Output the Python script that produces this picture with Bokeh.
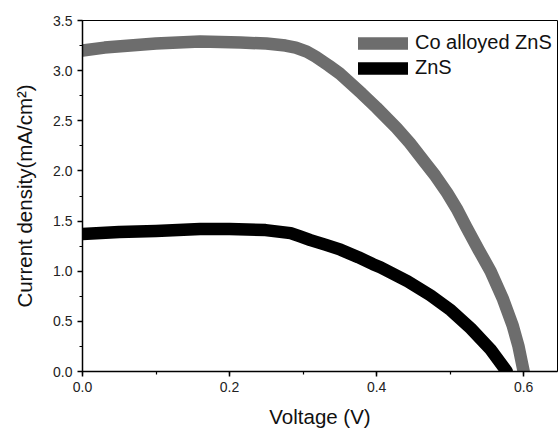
from bokeh.plotting import figure
from bokeh.models import Range1d, SingleIntervalTicker, PrintfTickFormatter, Legend, LegendItem
from bokeh.embed import file_html
from bokeh.resources import INLINE

# Co alloyed ZnS J-V curve
co_voltage = [0.000, 0.030, 0.065, 0.100, 0.160, 0.215, 0.250, 0.276, 0.290, 0.305, 0.317,
              0.335, 0.350, 0.365, 0.380, 0.400, 0.427, 0.445, 0.464, 0.480, 0.496,
              0.510, 0.522, 0.539, 0.555, 0.572, 0.585, 0.593, 0.600]
co_current = [3.20, 3.23, 3.25, 3.27, 3.29, 3.28, 3.27, 3.25, 3.23, 3.19, 3.14,
              3.05, 2.97, 2.87, 2.77, 2.63, 2.43, 2.28, 2.10, 1.95, 1.78,
              1.61, 1.44, 1.21, 1.00, 0.72, 0.46, 0.25, 0.00]

# ZnS J-V curve
zns_voltage = [0.000, 0.050, 0.100, 0.160, 0.200, 0.249, 0.283, 0.295, 0.310, 0.330, 0.351,
               0.375, 0.395, 0.405, 0.442, 0.473, 0.501, 0.528, 0.555, 0.577]
zns_current = [1.37, 1.39, 1.40, 1.42, 1.42, 1.41, 1.38, 1.35, 1.31, 1.265, 1.215,
               1.14, 1.07, 1.04, 0.90, 0.76, 0.61, 0.43, 0.22, 0.00]

series_labels = ["Co alloyed ZnS", "ZnS"]
series_colors = ["#6d6d6d", "#000000"]

FONT = "Liberation Sans"

p = figure(width=560, height=430, output_backend="svg", toolbar_location=None,
           x_range=Range1d(0, 0.646), y_range=Range1d(0, 3.5),
           min_border_left=82, min_border_right=3, min_border_top=20, min_border_bottom=59)

p.background_fill_color = "white"
p.border_fill_color = "white"
p.outline_line_color = "black"
p.outline_line_width = 1
p.xgrid.grid_line_color = None
p.ygrid.grid_line_color = None

r1 = p.line(co_voltage, co_current, line_width=12.5, line_color=series_colors[0],
            line_cap="round", line_join="round")
r2 = p.line(zns_voltage, zns_current, line_width=12.5, line_color=series_colors[1],
            line_cap="round", line_join="round")

p.xaxis.ticker = SingleIntervalTicker(interval=0.2, num_minor_ticks=2)
p.yaxis.ticker = SingleIntervalTicker(interval=0.5, num_minor_ticks=2)
p.xaxis.formatter = PrintfTickFormatter(format="%.1f")
p.yaxis.formatter = PrintfTickFormatter(format="%.1f")

for ax in (p.xaxis, p.yaxis):
    ax.axis_line_width = 1.5
    ax.axis_line_color = "black"
    ax.major_tick_in = 0
    ax.major_tick_out = 5
    ax.minor_tick_in = 0
    ax.minor_tick_out = 3
    ax.major_tick_line_width = 1.5
    ax.minor_tick_line_width = 1.2
    ax.major_label_text_font = FONT
    ax.major_label_text_font_size = "14px"
    ax.major_label_text_color = "#222222"
    ax.major_label_standoff = 5
    ax.axis_label_text_font = FONT
    ax.axis_label_text_font_size = "20.5px"
    ax.axis_label_text_font_style = "normal"
    ax.axis_label_text_color = "#111111"

p.xaxis.axis_label = "Voltage (V)"
p.yaxis.axis_label = "Current density(mA/cm\u00b2)"
p.xaxis.axis_label_standoff = 10
p.yaxis.axis_label_standoff = 14

legend = Legend(items=[LegendItem(label=series_labels[0], renderers=[r1]),
                       LegendItem(label=series_labels[1], renderers=[r2])],
                location=(276, 292), border_line_color=None, background_fill_alpha=0,
                padding=0, margin=0, spacing=2, glyph_width=50, glyph_height=20,
                label_height=20, label_standoff=7,
                label_text_font=FONT, label_text_font_size="20px", label_text_color="#111111")
p.add_layout(legend)

open("out.html", "w").write(file_html(p, INLINE))
